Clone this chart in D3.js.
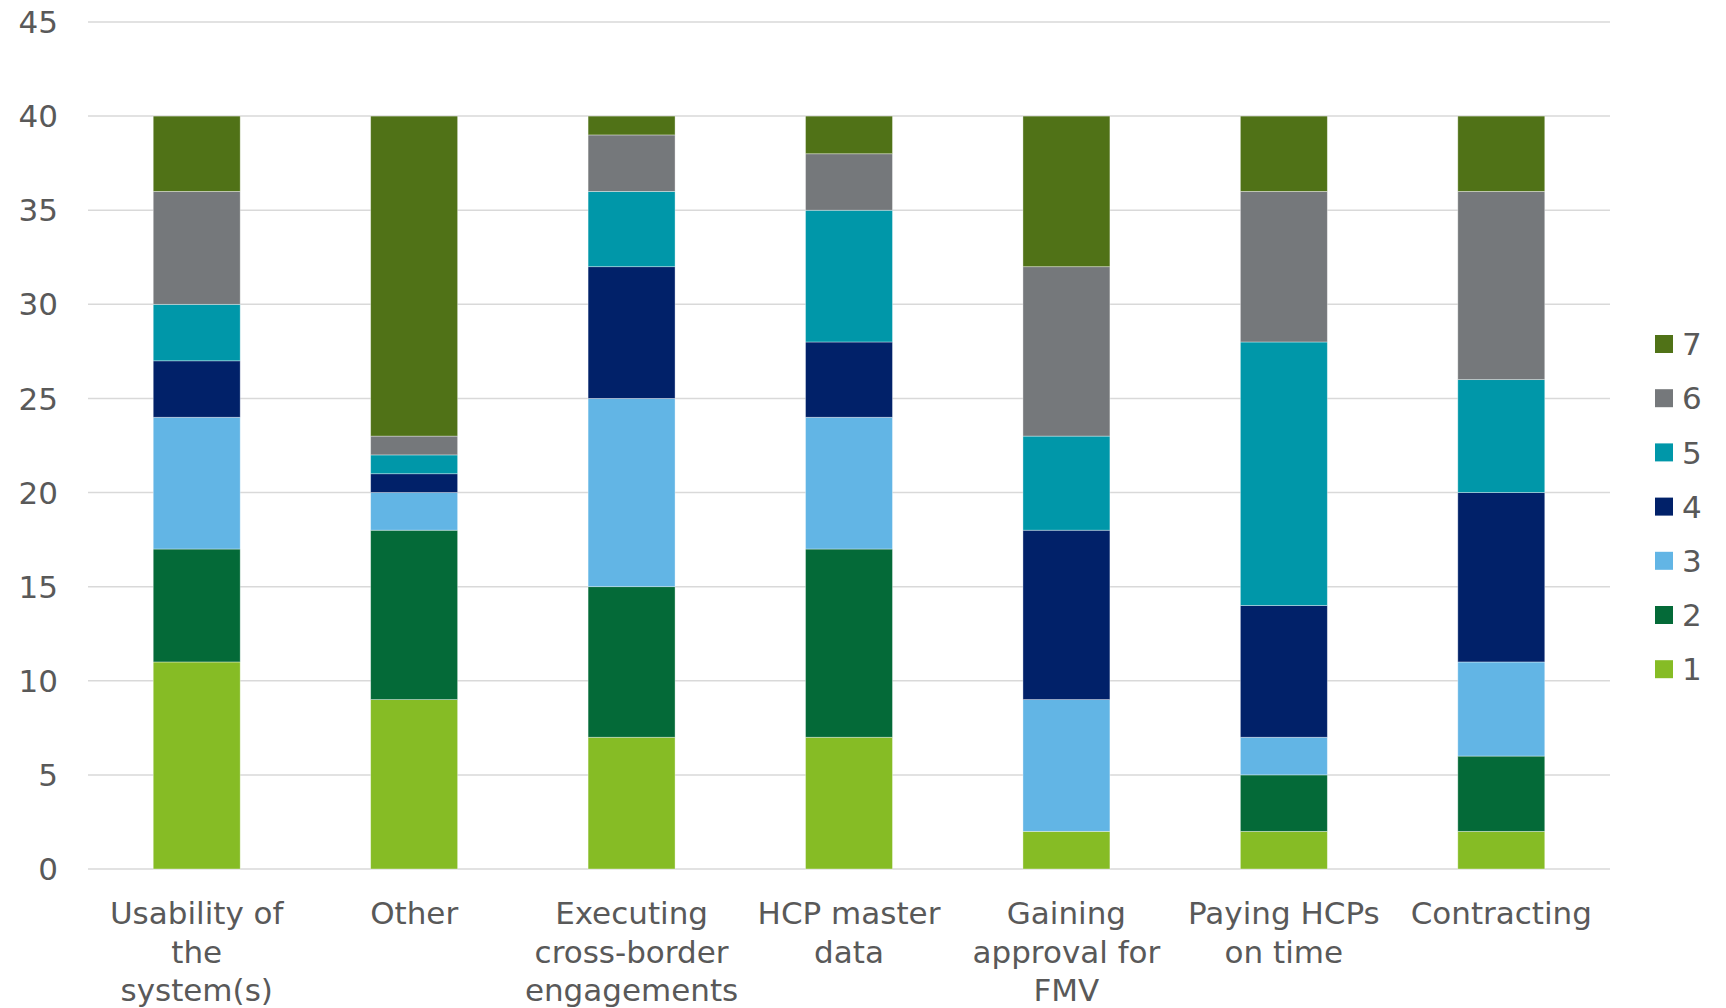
<!DOCTYPE html>
<html>
<head>
<meta charset="utf-8">
<script src="https://cdn.jsdelivr.net/npm/d3@7"></script>
<style>
  body { margin: 0; background: #fff; }
  svg text { font-family: "DejaVu Sans", Verdana, sans-serif; fill: #595959; }
</style>
</head>
<body>
<svg id="chart"></svg>
<script>
// categories (x axis), one label line per array item
var categories = [
    ["Usability of", "the", "system(s)"],
    ["Other"],
    ["Executing", "cross-border", "engagements"],
    ["HCP master", "data"],
    ["Gaining", "approval for", "FMV"],
    ["Paying HCPs", "on time"],
    ["Contracting"]
];
var seriesNames = ["1", "2", "3", "4", "5", "6", "7"];
// values per rating, one entry per category
var rating1 = [11, 9, 7, 7, 2, 2, 2];
var rating2 = [6, 9, 8, 10, 0, 3, 4];
var rating3 = [7, 2, 10, 7, 7, 2, 5];
var rating4 = [3, 1, 7, 4, 9, 7, 9];
var rating5 = [3, 1, 4, 7, 5, 14, 6];
var rating6 = [6, 1, 3, 3, 9, 8, 10];
var rating7 = [4, 17, 1, 2, 8, 4, 4];
var yTicks = [0, 5, 10, 15, 20, 25, 30, 35, 40, 45];
var colors = ["#86bc25", "#046a38", "#62b5e5", "#012169", "#0097a9", "#75787b", "#507217"];

var config = {
    width: 1726,
    height: 1008,
    left: 88,
    right: 1610,
    top: 22,
    bottom: 869,
    barRatio: 0.4,
    fontSize: "31px"
};

var svg = d3.select("#chart")
    .attr("width", config.width)
    .attr("height", config.height);

var allSeries = [rating1, rating2, rating3, rating4, rating5, rating6, rating7];
// build rows for d3.stack
var rows = categories.map(function(c, i) {
    var r = { idx: i };
    seriesNames.forEach(function(s, k) { r[s] = allSeries[k][i]; });
    return r;
});
var stacked = d3.stack().keys(seriesNames)(rows);

var x = d3.scaleBand()
    .domain(d3.range(categories.length))
    .range([config.left, config.right])
    .padding(0);
var y = d3.scaleLinear()
    .domain([0, 45])
    .range([config.bottom, config.top]);
var color = d3.scaleOrdinal().domain(seriesNames).range(colors);

// gridlines
svg.append("g")
    .selectAll("line")
    .data(yTicks)
    .enter()
    .append("line")
    .attr("x1", config.left)
    .attr("x2", config.right)
    .attr("y1", function(d) { return y(d); })
    .attr("y2", function(d) { return y(d); })
    .attr("stroke", "#d9d9d9")
    .attr("stroke-width", 1.5);

// y axis labels
svg.append("g")
    .selectAll("text")
    .data(yTicks)
    .enter()
    .append("text")
    .attr("x", 58)
    .attr("y", function(d) { return y(d); })
    .attr("dy", "0.36em")
    .attr("text-anchor", "end")
    .style("font-size", config.fontSize)
    .text(function(d) { return d; });

// bars
var barW = x.bandwidth() * config.barRatio;
svg.append("g")
    .selectAll("g")
    .data(stacked)
    .enter()
    .append("g")
    .attr("fill", function(d) { return color(d.key); })
    .selectAll("rect")
    .data(function(d) { return d; })
    .enter()
    .append("rect")
    .filter(function(d) { return d[1] > d[0]; })
    .attr("x", function(d) { return x(d.data.idx) + (x.bandwidth() - barW) / 2; })
    .attr("width", barW)
    .attr("y", function(d) { return y(d[1]); })
    .attr("height", function(d) { return y(d[0]) - y(d[1]); })
    .attr("stroke", "rgba(255,255,255,0.45)")
    .attr("stroke-width", 0.8);

// category labels
var cat = svg.append("g")
    .selectAll("text")
    .data(categories)
    .enter()
    .append("text")
    .attr("x", function(d, i) { return x(i) + x.bandwidth() / 2; })
    .attr("y", 924)
    .attr("text-anchor", "middle")
    .style("font-size", config.fontSize);
cat.selectAll("tspan")
    .data(function(d) { return d; })
    .enter()
    .append("tspan")
    .attr("x", function() { return d3.select(this.parentNode).attr("x"); })
    .attr("dy", function(d, i) { return i === 0 ? 0 : 38.5; })
    .text(function(d) { return d; });

// legend, top entry is series 7
var legend = svg.append("g")
    .selectAll("g")
    .data(seriesNames.slice().reverse())
    .enter()
    .append("g")
    .attr("transform", function(d, i) { return "translate(1655," + (335 + i * 54.2) + ")"; });
legend.append("rect")
    .attr("width", 18)
    .attr("height", 18)
    .attr("fill", function(d) { return color(d); });
legend.append("text")
    .attr("x", 27)
    .attr("y", 9)
    .attr("dy", "0.36em")
    .style("font-size", config.fontSize)
    .text(function(d) { return d; });
</script>
</body>
</html>
